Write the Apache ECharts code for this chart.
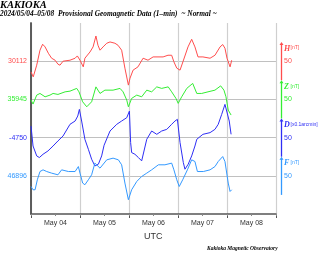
<!DOCTYPE html>
<html>
<head>
<meta charset="utf-8">
<script src="https://cdn.jsdelivr.net/npm/echarts@6/dist/echarts.min.js"></script>
<style>
  html, body { margin: 0; padding: 0; background: #fff; }
  #chart { width: 320px; height: 261px; }
</style>
</head>
<body>
<div id="chart"></div>
<script>
// hours since 2024-05-04 00:00 UTC, values are deviations from each base line
var hTimes = [0,1.1,2.8,4.4,5.7,6.9,8.5,10.1,11.8,13.2,14.2,15.7,19.1,21.6,22.7,24,25.6,26.4,28.9,30.4,31.8,32.8,33.8,35.3,37.1,38.7,41.1,42.6,44.4,46,47.7,48.5,50,52.4,54.9,57.3,59.8,62.2,64.7,67.1,68.9,70,71.4,73,74.4,76.9,78.7,80.3,81.8,84.2,87.7,90.1,92.6,93.9,95,96,97.5,98.3];
var hValues = [-14,-20.5,-5.2,14.4,22.2,18.7,10.4,3.9,1.3,-3.9,-5.2,0,1.3,3.9,6.9,1.3,-7.4,3.9,12.1,18.7,33,20.9,14.4,18.7,23.5,25.2,23.5,20.9,14.4,-9.1,-31.3,-22.2,-11.7,-7.4,3.9,1.3,5.6,5.6,5.6,7.8,7.8,-0.9,-9.1,-11.7,-0.9,18.7,28.7,18.7,5.6,5.6,3.9,7.8,18.7,21.8,17,3.9,-7.4,1.3];

var zTimes = [0,1,2.8,4.4,6.9,9.3,10.8,13.2,16.7,19.1,22.4,23.5,25.3,27.3,29.7,31.8,33.8,36.2,40.2,43.6,45.1,46.9,47.7,49.3,51.8,54.2,56.7,59.1,61.6,64,67.2,68.9,71,72.1,73.8,76.3,79.2,81.2,83.6,86.7,90.1,92.9,94.5,95.5,96.6,98];
var zValues = [-0.9,-6.1,5.6,7.8,3.4,5.6,7.8,6.5,9.9,10.8,14.4,9.9,-3.1,-9.7,-3.1,16.4,7.8,12.1,12.1,14.4,9.9,-0.9,-9.7,1.3,5.6,3.4,12.1,9.9,16.4,14.4,16.4,9.9,1.3,-5.2,3.4,14.4,20.9,7.8,7.8,9.9,12.1,17.7,12.1,3.4,-14,-20.5];

var dTimes = [0,1,2.8,4.1,5.9,8.3,10.8,13.2,15.7,19.1,21.6,22.9,23.7,24.8,26.4,28.1,29.7,31.3,33,34.6,35.8,38.7,42,44.4,46.9,48.2,48.8,49.3,50.9,52.6,54.2,54.9,56.7,59.1,61.6,64,66.5,68.9,70.5,71.7,73,74.6,75.4,77,78.7,80.3,81.2,84.2,87.7,90.1,91.7,93.4,95,95.9,97.1,98];
var dValues = [15.1,-11,-24,-26.1,-21.8,-17.5,-11,-4.4,2.1,17.4,21.7,28.2,36.9,21.7,-2.2,-15.3,-28.3,-37.1,-34.8,-24,-10,8.6,17.4,21.7,26.1,34.7,-6.5,-19.6,-21.8,-26.1,-30.5,-28.3,-2.2,8.6,4.3,8.6,10.8,17.4,21.7,23.9,-6.5,-32.6,-41.4,-34.8,-24,-11,-2.2,4.3,6.5,10.8,17.4,30.4,43.5,41.2,21.7,4.3];

var fTimes = [0,1,2,3.1,4.4,5.9,7.7,10.1,13.2,15,18.3,21.6,23.2,24,25.3,26.4,28.1,29.7,31.3,33.8,37.1,40.2,42.8,44.4,46,47.7,49.3,51.8,54.2,56.7,59.1,62.4,65.6,68.9,70,71.4,72.6,74.3,76.6,78.7,80.3,81.5,84.4,87.7,90.1,91.7,93.9,95,96.6,97.5,98.3];
var fValues = [-14,-18.3,-18.3,-5.2,5.6,7.8,5.6,3.5,1.3,7.8,5.6,5.6,12.1,3.5,-9.5,-11.7,-5.2,1.3,16.6,10,20.9,23.1,20.9,14.4,-9.5,-31.3,-18.3,-7.4,-0.9,3.5,7.8,14.4,14.4,16.6,7.8,-5.2,-14,-5.2,7.8,20.9,18.7,5.6,5.6,7.8,12.1,18.7,25.2,18.7,-9.5,-20.5,-18.3];

var components = ['H', 'Z', 'D', 'F'];
var units = ['[nT]', '[nT]', '[x0.1arcmin]', '[nT]'];
var baseLabels = ['30112', '35945', '-4750', '46896'];
var baseLines = [200, 150, 100, 50];
var dayLabels = ['May 04', 'May 05', 'May 06', 'May 07', 'May 08'];
var scaleStep = 50;

var colors = ['#ff4d4d', '#33ee33', '#2e2ef5', '#3399ff'];
var keys = ['h', 'z', 'd', 'f'];
var xMax = 120;

function pairs(t, v, base) {
  var out = [];
  for (var i = 0; i < t.length; i++) out.push([t[i], base + v[i]]);
  return out;
}
var allTimes = [hTimes, zTimes, dTimes, fTimes];
var allValues = [hValues, zValues, dValues, fValues];

var rich = {};
var labelByBase = {};
for (var i = 0; i < 4; i++) {
  rich[keys[i]] = { color: colors[i], fontSize: 7, fontFamily: 'Liberation Sans' };
  labelByBase[baseLines[i]] = '{' + keys[i] + '|' + baseLabels[i] + '}';
}

var series = [];
for (var i = 0; i < 4; i++) {
  series.push({
    type: 'line',
    data: pairs(allTimes[i], allValues[i], baseLines[i]),
    showSymbol: false,
    lineStyle: { color: colors[i], width: 1 },
    animation: false,
    z: 3
  });
}

// scale bars on the right (one step of the y scale, centred on each base line)
var barData = [];
for (var i = 0; i < 4; i++) barData.push([xMax, baseLines[i], i]);
series.push({
  type: 'custom',
  data: barData,
  clip: false,
  animation: false,
  renderItem: function (params, api) {
    var idx = api.value(2);
    var base = api.value(1);
    var top = api.coord([xMax, base + scaleStep / 2]);
    var bot = api.coord([xMax, base - scaleStep / 2]);
    var mid = api.coord([xMax, base]);
    var x = top[0] + 5.5;
    var c = colors[idx];
    return {
      type: 'group',
      children: [
        { type: 'line', shape: { x1: x, y1: top[1] + 2, x2: x, y2: bot[1] }, style: { stroke: c, lineWidth: 1.3 } },
        { type: 'polygon', shape: { points: [[x - 2, top[1] + 3], [x, top[1]], [x + 2, top[1] + 3]] }, style: { fill: c } },
        { type: 'text', x: x + 2.5, y: top[1] + 6.5, style: { text: components[idx], fill: c, font: 'bold italic 8px "Liberation Serif"', verticalAlign: 'middle' } },
        { type: 'text', x: x + 9, y: top[1] + 6, style: { text: units[idx], fill: c, font: '5px "Liberation Sans"', verticalAlign: 'middle' } },
        { type: 'text', x: x + 2.5, y: mid[1], style: { text: String(scaleStep), fill: c, font: '7px "Liberation Sans"', verticalAlign: 'middle' } }
      ]
    };
  }
});

var chart = echarts.init(document.getElementById('chart'), null, { renderer: 'canvas' });
chart.setOption({
  animation: false,
  backgroundColor: '#fff',
  grid: { left: 31, right: 44, top: 23, bottom: 47, containLabel: false },
  title: [
    { text: 'KAKIOKA', left: 0, top: 0, padding: 0, textStyle: { fontFamily: 'Liberation Serif', fontStyle: 'italic', fontWeight: 'bold', fontSize: 10.5, color: '#000' } },
    { text: '2024/05/04\u201305/08  Provisional Geomagnetic Data (1\u2013min)  ~ Normal ~', left: 0, top: 11, padding: 0, textStyle: { fontFamily: 'Liberation Serif', fontStyle: 'italic', fontWeight: 'bold', fontSize: 7.4, color: '#000' } }
  ],
  graphic: [
    { type: 'text', left: 144, top: 232, style: { text: 'UTC', font: '9px "Liberation Sans"', fill: '#333' } },
    { type: 'text', left: 207, top: 246, style: { text: 'Kakioka Magnetic Observatory', font: 'bold italic 5.5px "Liberation Serif"', fill: '#000' } }
  ],
  xAxis: [
    {
      type: 'value', min: 0, max: xMax, interval: 24,
      axisLine: { show: true, onZero: false, lineStyle: { color: '#555', width: 1.5 } },
      axisTick: { show: true, length: 4, lineStyle: { color: '#555' } },
      axisLabel: { show: false },
      splitLine: { show: true, lineStyle: { color: '#cfcfcf', width: 1.2 } }
    },
    {
      type: 'value', min: 0, max: xMax, interval: 12, position: 'bottom',
      axisLine: { show: false },
      axisTick: { show: true, length: 2, lineStyle: { color: '#888' } },
      splitLine: { show: false },
      axisLabel: {
        show: true, margin: 6, fontSize: 7, color: '#333', fontFamily: 'Liberation Sans',
        formatter: function (v) { return v % 24 === 12 ? dayLabels[(v - 12) / 24] : ''; }
      }
    }
  ],
  yAxis: [
    {
      type: 'value', min: 0, max: 250, interval: scaleStep,
      axisLine: { show: true, lineStyle: { color: '#555', width: 1.5 } },
      axisTick: { show: false },
      axisLabel: { margin: 4, rich: rich, formatter: function (v) { return labelByBase[v] || ''; } },
      splitLine: { show: true, lineStyle: { color: ['rgba(0,0,0,0)', '#c0c0c0', '#c0c0c0', '#c0c0c0', '#c0c0c0', 'rgba(0,0,0,0)'], width: 1.2 } }
    },
    {
      type: 'value', min: 0, max: 250, position: 'right',
      axisLine: { show: true, lineStyle: { color: '#555', width: 1.5 } },
      axisTick: { show: false }, axisLabel: { show: false }, splitLine: { show: false }
    }
  ],
  series: series
});
</script>
</body>
</html>
